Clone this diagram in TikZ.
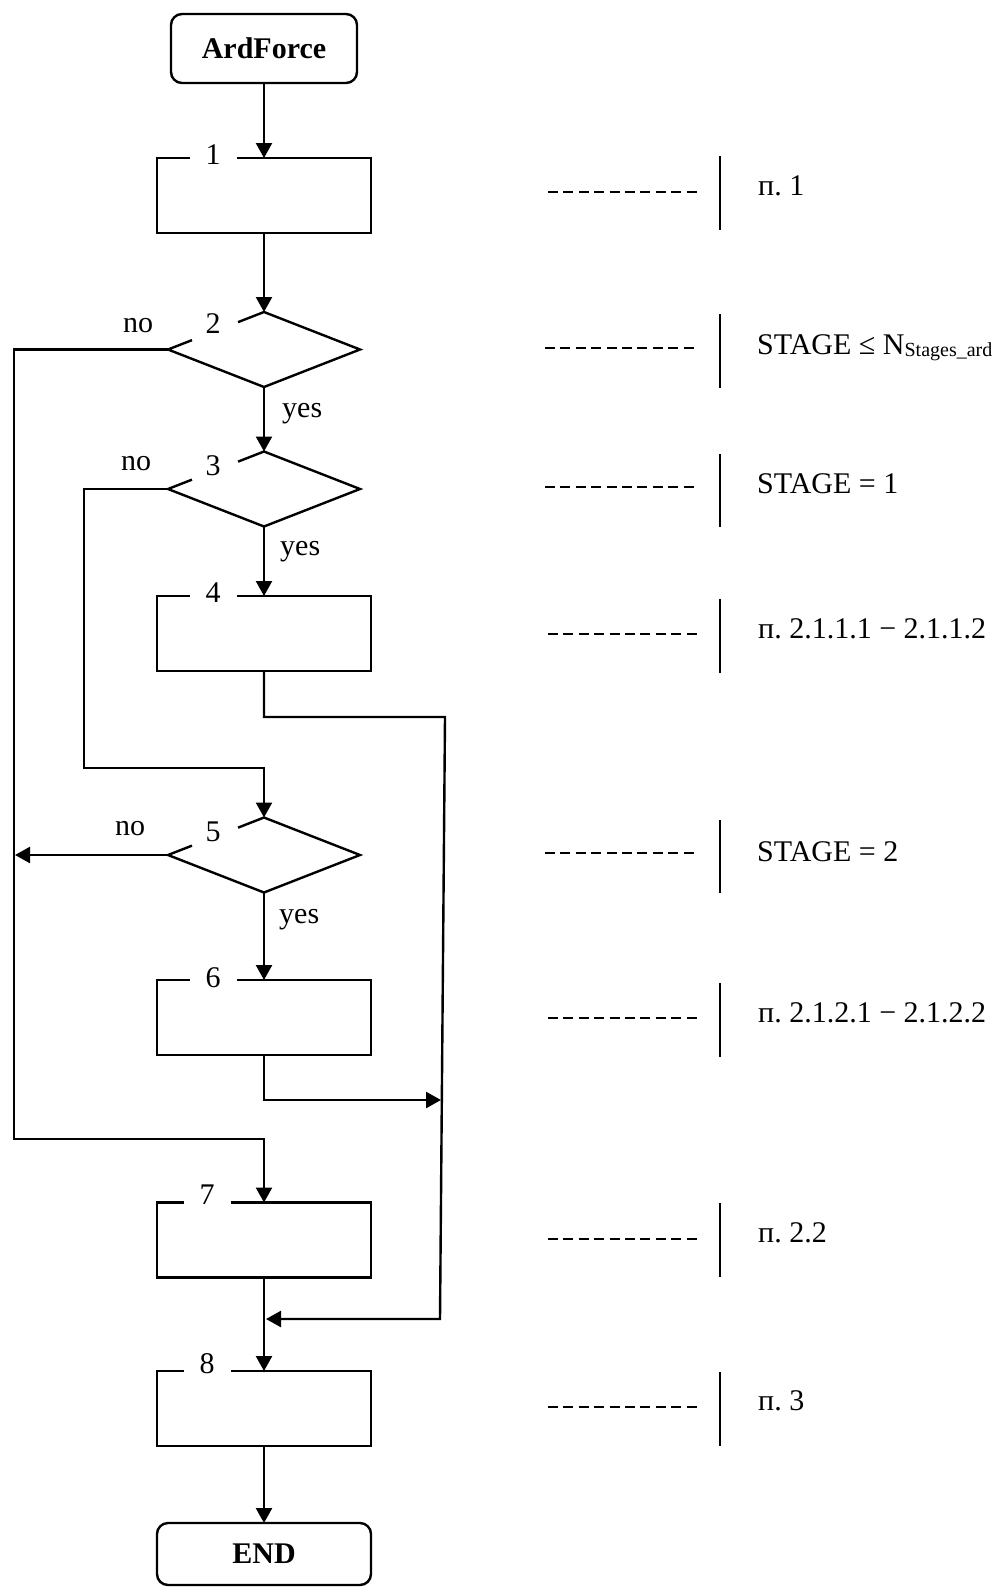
\documentclass[tikz,border=0pt]{standalone}
\usepackage{fontspec}
\setmainfont{Liberation Serif}
\usetikzlibrary{arrows.meta,shapes.geometric,calc}
\frenchspacing
\newcommand\gapbox[3]{\draw[conn] ([xshift=#2pt]#1.north west) -- (#1.north west) -- (#1.south west) -- (#1.south east) -- (#1.north east) -- ([xshift=#3pt]#1.north west);}
\newcommand\gapdia[1]{\draw[conn] ($(#1.west)!0.25!(#1.north)$) -- (#1.west) -- (#1.south) -- (#1.east) -- (#1.north) -- ($(#1.west)!0.73!(#1.north)$);}
\begin{document}
\begin{tikzpicture}[x=1pt,y=-1pt,
  font=\fontsize{30}{33}\selectfont,
  box/.style={rectangle,minimum width=214pt,minimum height=75pt,inner sep=0pt,outer sep=0pt},
  dia/.style={diamond,minimum width=192pt,minimum height=75pt,inner sep=0pt,outer sep=0pt},
  term/.style={draw,rectangle,rounded corners=11pt,line width=2.4pt,inner sep=0pt,outer sep=0pt,font=\fontsize{30}{33}\selectfont\bfseries},
  num/.style={anchor=base,inner sep=0pt},
  lbl/.style={anchor=base west,inner sep=0pt},
  conn/.style={line width=2.4pt},
  arr/.style={conn,-{Triangle[length=15pt 0 0,width=16pt 0 0]}},
  dsh/.style={line width=2.6pt,dash pattern=on 10pt off 5.4pt},
  bar/.style={line width=2.8pt}]
\useasboundingbox (0,0) rectangle (1000,1587);

% blocks
\node[term,minimum width=186pt,minimum height=69pt] (st) at (264,48.5) {ArdForce};
\node[box] (b1) at (264,195.5) {};
\node[dia] (d2) at (264,349.5) {};
\node[dia] (d3) at (264,489) {};
\node[box] (b4) at (264,633.5) {};
\node[dia] (d5) at (264,855) {};
\node[box] (b6) at (264,1017.5) {};
\node[box] (b7) at (264,1240) {};
\node[box] (b8) at (264,1408.5) {};
\node[term,minimum width=214pt,minimum height=62pt] (en) at (264,1554) {END};

\gapbox{b1}{33}{80}
\gapbox{b4}{33}{80}
\gapbox{b6}{33}{80}
\gapbox{b7}{27}{74}
\gapbox{b8}{27}{74}
\gapdia{d2}
\gapdia{d3}
\gapdia{d5}

% numbers
\node[num] (n1) at (213,164) {1};
\node[num] (n2) at (213,333) {2};
\node[num] (n3) at (213,475) {3};
\node[num] (n4) at (213,602) {4};
\node[num] (n5) at (213,841) {5};
\node[num] (n6) at (213,987) {6};
\node[num] (n7) at (207,1204) {7};
\node[num] (n8) at (207,1373) {8};

% branch labels
\node[num] (no2) at (138,332) {no};
\node[num] (no3) at (136,470) {no};
\node[num] (no5) at (130,835) {no};
\node[lbl] (y2) at (282,417) {yes};
\node[lbl] (y3) at (280,555) {yes};
\node[lbl] (y5) at (279,923) {yes};

% connectors
\coordinate (L) at (14,1139);
\coordinate (M) at (84,768);
\coordinate (NL) at (15,855);
\coordinate (R1) at (445,717);
\coordinate (R2) at (440,1319);
\coordinate (RJ) at (441,1100);
\coordinate (J8) at (266,1319);

\draw[arr] (st) -- (b1);
\draw[arr] (b1) -- (d2);
\draw[arr] (d2) -- (d3);
\draw[arr] (d3) -- (b4);
\draw[arr] (d5) -- (b6);
\draw[arr] (b7) -- (b8);
\draw[arr] (b8) -- (en);
\draw[arr] (d2.west) -| (L) -| (b7.north);
\draw[arr] (d3.west) -| (M) -| (d5.north);
\draw[arr] (d5.west) -- (NL);
\draw[arr] (b4.south) |- (R1) -- (R2) -- (J8);
\draw[arr] (b6.south) |- (RJ);

% annotations
\draw[dsh] (548,192) -- (698,192);
\draw[bar] (720,156) -- (720,230);
\node[lbl] (t1) at (758,195) {п. 1};

\draw[dsh] (545,348) -- (695,348);
\draw[bar] (720,314) -- (720,388);
\node[lbl] (t2) at (757,354) {STAGE ≤ N\raisebox{-2pt}{\fontsize{20}{22}\selectfont Stages\_ard}};

\draw[dsh] (545,487) -- (695,487);
\draw[bar] (720,454) -- (720,527);
\node[lbl] (t3) at (757,493) {STAGE = 1};

\draw[dsh] (548,634) -- (698,634);
\draw[bar] (720,599) -- (720,673);
\node[lbl] (t4) at (758,638) {п. 2.1.1.1 − 2.1.1.2};

\draw[dsh] (545,853) -- (695,853);
\draw[bar] (720,820) -- (720,893);
\node[lbl] (t5) at (757,861) {STAGE = 2};

\draw[dsh] (548,1018) -- (698,1018);
\draw[bar] (720,983) -- (720,1057);
\node[lbl] (t6) at (758,1022) {п. 2.1.2.1 − 2.1.2.2};

\draw[dsh] (548,1239) -- (698,1239);
\draw[bar] (720,1203) -- (720,1277);
\node[lbl] (t7) at (758,1242) {п. 2.2};

\draw[dsh] (548,1407) -- (698,1407);
\draw[bar] (720,1372) -- (720,1446);
\node[lbl] (t8) at (758,1410) {п. 3};
\end{tikzpicture}
\end{document}
